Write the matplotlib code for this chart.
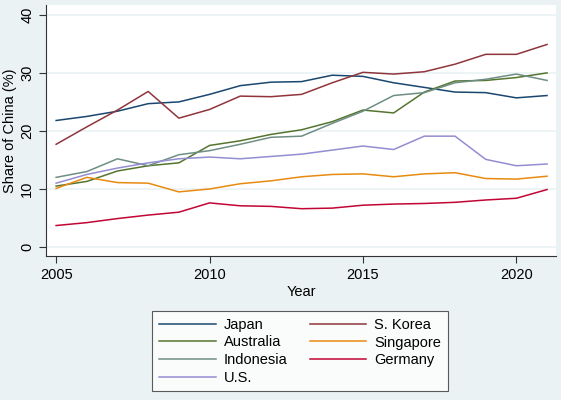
import matplotlib
matplotlib.use("Agg")
import matplotlib.pyplot as plt

YEARS = list(range(2005, 2022))
japan     = [21.8, 22.5, 23.4, 24.7, 25.0, 26.3, 27.8, 28.4, 28.5, 29.6, 29.4, 28.3, 27.5, 26.7, 26.6, 25.7, 26.1]
korea     = [17.7, 20.7, 23.6, 26.8, 22.2, 23.7, 26.0, 25.9, 26.3, 28.3, 30.1, 29.8, 30.2, 31.5, 33.2, 33.2, 34.9]
australia = [10.5, 11.3, 13.1, 14.0, 14.5, 17.5, 18.3, 19.4, 20.2, 21.6, 23.6, 23.1, 26.7, 28.6, 28.7, 29.2, 30.0]
singapore = [10.1, 12.0, 11.1, 11.0, 9.5, 10.0, 10.9, 11.4, 12.1, 12.5, 12.6, 12.1, 12.6, 12.8, 11.8, 11.7, 12.2]
indonesia = [12.0, 13.0, 15.2, 14.0, 15.9, 16.6, 17.7, 18.9, 19.1, 21.3, 23.4, 26.1, 26.6, 28.3, 28.9, 29.8, 28.7]
germany   = [3.7, 4.2, 4.9, 5.5, 6.0, 7.6, 7.1, 7.0, 6.6, 6.7, 7.2, 7.4, 7.5, 7.7, 8.1, 8.4, 9.9]
us        = [11.0, 12.5, 13.6, 14.5, 15.2, 15.5, 15.2, 15.6, 16.0, 16.7, 17.4, 16.8, 19.1, 19.1, 15.1, 14.0, 14.3]

SERIES = [("Japan", japan, "#1a476f"), ("S. Korea", korea, "#90353b"),
          ("Australia", australia, "#55752f"), ("Singapore", singapore, "#e88a10"),
          ("Indonesia", indonesia, "#6e8e84"), ("Germany", germany, "#c10534"),
          ("U.S.", us, "#938dd2")]

BG = "#eaf2f3"
plt.rcParams["font.family"] = "Liberation Sans"

fig = plt.figure(figsize=(5.61, 4.0), dpi=100, facecolor=BG)
ax = fig.add_axes([0.082, 0.36, 0.909, 0.6275])
ax.set_facecolor("white")

lines = {}
for name, vals, col in SERIES:
    ln, = ax.plot(YEARS, vals, color=col, lw=1.1, label=name)
    lines[name] = ln

ax.set_xlim(2004.67, 2021.29)
ax.set_ylim(-1.55, 41.7)
ax.set_xticks([2005, 2010, 2015, 2020])
ax.set_yticks([0, 10, 20, 30, 40])
ax.set_yticklabels(["0", "10", "20", "30", "40"], rotation=90, va="center")
ax.tick_params(labelsize=10.5, length=5, width=0.8, color="#333333")
ax.grid(axis="y", color=BG, lw=1.2)
ax.grid(axis="x", visible=False)
ax.set_axisbelow(True)
for s in ["top", "right"]:
    ax.spines[s].set_visible(False)
for s in ["left", "bottom"]:
    ax.spines[s].set_color("#333333")
    ax.spines[s].set_linewidth(0.8)
ax.set_xlabel("Year", fontsize=10.5, labelpad=2)
ax.set_ylabel("Share of China (%)", fontsize=10.5, labelpad=2)

order = ["Japan", "Australia", "Indonesia", "U.S.", "S. Korea", "Singapore", "Germany"]
leg = fig.legend([lines[n] for n in order], order, ncol=2, loc="upper center",
                 bbox_to_anchor=(0.535, 0.24), fontsize=10.5, frameon=True, fancybox=False,
                 edgecolor="#333333", facecolor="white", handlelength=3.9,
                 columnspacing=1.5, labelspacing=0.25, borderpad=0.45, handletextpad=0.55)
leg.get_frame().set_linewidth(0.8)

fig.savefig("out.png", dpi=100, facecolor=BG)
